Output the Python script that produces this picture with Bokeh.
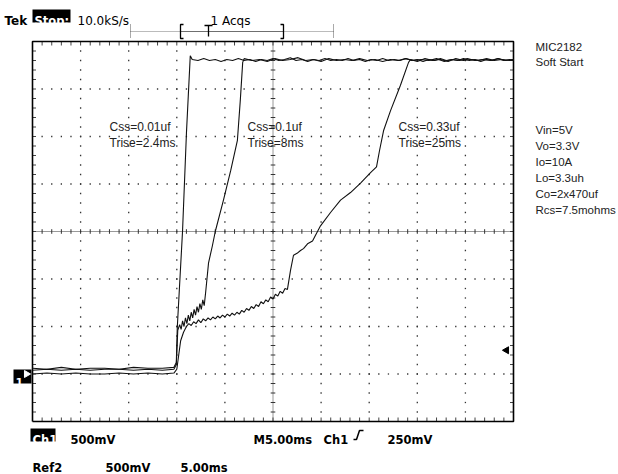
from bokeh.plotting import figure
from bokeh.models import Range1d, ColumnDataSource
from bokeh.core.properties import value
from bokeh.embed import file_html
from bokeh.resources import INLINE

# ---------------- data (time in ms, voltage in V) ----------------
T_PER_DIV = 5.0      # M5.00ms
V_PER_DIV = 0.5      # 500mV
N_HDIV = 10
N_VDIV = 8
V_BOTTOM = -0.5      # ground marker sits 1 div above the bottom edge
TRIG_LEVEL = 0.25    # 250mV

# Css = 0.01uF
t_001 = [0.0, 1.5, 3.0, 4.5, 6.0, 7.5, 9.0, 10.5, 12.0, 13.5, 14.7, 14.95, 15.05, 15.6, 16.0, 16.4,
         16.6, 17.2, 17.8, 18.4, 19.0, 19.6, 20.2, 20.8, 21.4, 22.0, 22.6, 23.2, 23.8, 24.4, 25.0,
         25.6, 26.2, 26.8, 27.4, 28.0, 28.6, 29.2, 29.8, 30.4, 31.0, 31.6, 32.2, 32.8, 33.4, 34.0,
         34.6, 35.2, 35.8, 36.4, 37.0, 37.6, 38.2, 38.8, 39.4, 40.0, 40.6, 41.2, 41.8, 42.4, 43.0,
         43.6, 44.2, 44.8, 45.4, 46.0, 46.6, 47.2, 47.8, 48.4, 49.0, 49.6, 50.0]
v_001 = [0.06, 0.05, 0.07, 0.05, 0.06, 0.06, 0.05, 0.07, 0.06, 0.06, 0.07, 0.12, 0.49, 1.51, 2.53, 3.35,
         3.31, 3.30, 3.32, 3.30, 3.31, 3.29, 3.31, 3.30, 3.32, 3.30, 3.31, 3.29, 3.31, 3.30, 3.32,
         3.30, 3.31, 3.33, 3.30, 3.31, 3.29, 3.31, 3.30, 3.32, 3.30, 3.31, 3.30, 3.32, 3.30, 3.31,
         3.29, 3.31, 3.30, 3.32, 3.30, 3.31, 3.30, 3.32, 3.30, 3.31, 3.29, 3.31, 3.30, 3.32, 3.30,
         3.31, 3.30, 3.32, 3.30, 3.31, 3.29, 3.31, 3.30, 3.32, 3.30, 3.31, 3.30]

# Css = 0.1uF
t_01 = [0.0, 1.5, 3.0, 4.5, 6.0, 7.5, 9.0, 10.5, 12.0, 13.5, 14.7, 14.95, 15.1,
        15.3, 15.45, 15.6, 15.75, 15.9, 16.05, 16.2, 16.35, 16.5, 16.65, 16.8, 16.95, 17.1, 17.25,
        17.4, 17.55, 17.7, 17.85, 18.0, 18.3, 18.7, 19.0, 19.85, 20.6, 21.3, 21.6, 21.85,
        22.0, 22.8, 23.6, 24.4, 25.2, 26.0, 26.8, 27.6, 28.4, 29.2, 30.0, 30.8, 31.6, 32.4, 33.2,
        34.0, 34.8, 35.6, 36.4, 37.2, 38.0, 38.8, 39.6, 40.4, 41.2, 42.0, 42.8, 43.6, 44.4, 45.2,
        46.0, 46.8, 47.6, 48.4, 49.2, 50.0]
v_01 = [0.04, 0.05, 0.04, 0.05, 0.04, 0.05, 0.05, 0.04, 0.05, 0.04, 0.05, 0.10, 0.46,
        0.52, 0.47, 0.56, 0.50, 0.59, 0.53, 0.62, 0.56, 0.65, 0.59, 0.68, 0.62, 0.71, 0.65,
        0.74, 0.68, 0.78, 0.72, 0.86, 1.17, 1.35, 1.50, 1.83, 2.14, 2.46, 2.88, 3.28,
        3.32, 3.30, 3.31, 3.29, 3.32, 3.30, 3.31, 3.33, 3.30, 3.31, 3.29, 3.32, 3.30, 3.31, 3.30,
        3.32, 3.30, 3.31, 3.29, 3.31, 3.30, 3.32, 3.30, 3.31, 3.30, 3.32, 3.29, 3.31, 3.30, 3.32,
        3.30, 3.31, 3.30, 3.32, 3.30, 3.31]

# Css = 0.33uF
t_033 = [0.0, 1.5, 3.0, 4.5, 6.0, 7.5, 9.0, 10.5, 12.0, 13.5, 14.7, 15.0, 15.2, 15.4, 15.7, 16.0,
         16.25, 16.5, 16.75, 17.0, 17.25, 17.5, 17.75, 18.0, 18.25, 18.5, 18.75, 19.0, 19.25, 19.5,
         19.75, 20.0, 20.25, 20.5, 20.75, 21.0, 21.25, 21.5, 21.75, 22.0, 22.25, 22.5, 22.75, 23.0,
         23.25, 23.5, 23.75, 24.0, 24.25, 24.5, 24.75, 25.0, 25.25, 25.5, 25.75, 26.0, 26.25, 26.5,
         26.82, 27.13, 27.5, 27.86, 28.17, 28.59, 29.11, 29.42, 29.94, 30.98, 32.02, 33.06, 34.10,
         35.14, 35.76, 36.07, 36.49, 37.21, 38.25, 39.09,
         39.3, 40.0, 40.8, 41.6, 42.4, 43.2, 44.0, 44.8, 45.6, 46.4, 47.2, 48.0, 48.8, 49.6, 50.0]
v_033 = [0.00, 0.01, 0.00, 0.01, 0.00, 0.00, 0.01, 0.00, 0.01, 0.00, 0.01, 0.05, 0.20, 0.35, 0.44, 0.50,
         0.53, 0.51, 0.55, 0.53, 0.57, 0.54, 0.58, 0.56, 0.59, 0.57, 0.60, 0.58, 0.61, 0.59,
         0.62, 0.60, 0.63, 0.61, 0.64, 0.62, 0.65, 0.63, 0.67, 0.65, 0.69, 0.67, 0.71, 0.69,
         0.73, 0.71, 0.76, 0.74, 0.78, 0.76, 0.81, 0.79, 0.84, 0.82, 0.87, 0.85, 0.90, 0.89,
         1.09, 1.25, 1.27, 1.30, 1.32, 1.37, 1.40, 1.46, 1.56, 1.70, 1.83, 1.91, 2.01,
         2.12, 2.18, 2.35, 2.56, 2.77, 3.04, 3.28,
         3.31, 3.29, 3.32, 3.30, 3.31, 3.29, 3.32, 3.30, 3.31, 3.30, 3.32, 3.30, 3.31, 3.30, 3.31]

trace_labels = [("Css=0.01uf", "Trise=2.4ms"), ("Css=0.1uf", "Trise=8ms"), ("Css=0.33uf", "Trise=25ms")]
side_title = ["MIC2182", "Soft Start"]
side_params = ["Vin=5V", "Vo=3.3V", "Io=10A", "Lo=3.3uh", "Co=2x470uf", "Rcs=7.5mohms"]

# ---------------- layout (page pixels) ----------------
W, H = 618, 474
PAGE = 0
GX0, GX1 = 32, 513      # graticule left/right on page
GY0, GY1 = 41, 421      # graticule top/bottom on page
T_SPAN = N_HDIV * T_PER_DIV
V_TOP = V_BOTTOM + N_VDIV * V_PER_DIV
sx = (GX1 - GX0) / T_SPAN
sy = (GY1 - GY0) / (V_TOP - V_BOTTOM)


def X(px):
    return (px - GX0) / sx


def Y(py):
    return V_TOP - (py - GY0) / sy


p = figure(width=W, height=H,
           x_range=Range1d(X(PAGE), X(PAGE + W)),
           y_range=Range1d(Y(PAGE + H), Y(PAGE)),
           output_backend="svg", toolbar_location=None,
           x_axis_location=None, y_axis_location=None,
           min_border=0, outline_line_color=None,
           background_fill_color="white", border_fill_color="white")
p.grid.visible = False

# ---------------- graticule ----------------
minor_t = [T_PER_DIV / 5 * j for j in range(1, N_HDIV * 5)]
minor_v = [V_BOTTOM + V_PER_DIV / 5 * k for k in range(1, N_VDIV * 5)]
t_center = T_SPAN / 2
v_center = V_BOTTOM + N_VDIV / 2 * V_PER_DIV
major_t = [T_PER_DIV * i for i in range(1, N_HDIV) if T_PER_DIV * i != t_center]
major_v = [V_BOTTOM + V_PER_DIV * i for i in range(1, N_VDIV) if V_BOTTOM + V_PER_DIV * i != v_center]

dx, dy = [], []
for tm in major_t:
    for vv in minor_v:
        dx.append(tm); dy.append(vv)
for vm in major_v:
    for tt in minor_t:
        dx.append(tt); dy.append(vm)
p.rect(dx, dy, width=1.3, height=1.3, width_units="screen", height_units="screen",
       fill_color="#333333", line_color=None)

# center cross lines
p.line([t_center, t_center], [V_BOTTOM, V_TOP], line_color="#333333", line_width=1, line_dash="1 1")
p.line([0, T_SPAN], [v_center, v_center], line_color="#333333", line_width=1, line_dash="1 1")
hx = 2.3 / sx
hy = 2.3 / sy
p.multi_line([[t_center - hx, t_center + hx] for _ in minor_v], [[vv, vv] for vv in minor_v],
             line_color="#333333", line_width=1)
p.multi_line([[tt, tt] for tt in minor_t], [[v_center - hy, v_center + hy] for _ in minor_t],
             line_color="#333333", line_width=1)

# border ticks
tl = 4 / sy
tlx = 3.5 / sx
bx, by = [], []
for tt in minor_t:
    bx += [[tt, tt], [tt, tt]]
    by += [[V_TOP, V_TOP - tl], [V_BOTTOM, V_BOTTOM + tl]]
for vv in minor_v:
    bx += [[0, tlx], [T_SPAN - tlx, T_SPAN]]
    by += [[vv, vv], [vv, vv]]
p.multi_line(bx, by, line_color="#444444", line_width=1)

# frame
p.line([0, T_SPAN, T_SPAN, 0, 0], [V_BOTTOM, V_BOTTOM, V_TOP, V_TOP, V_BOTTOM],
       line_color="black", line_width=1.6)

# ---------------- traces ----------------
for tt, vv in [(t_033, v_033), (t_01, v_01), (t_001, v_001)]:
    p.line(tt, vv, line_color="#111111", line_width=1.1)

# trigger level arrow and ground marker
p.scatter([X(506)], [TRIG_LEVEL], marker="triangle", angle=1.5708, size=7,
          fill_color="black", line_color="black")
p.quad(left=[X(13)], right=[X(31)], bottom=[Y(383)], top=[Y(369)], fill_color="black", line_color=None)
p.text([X(15)], [Y(381)], text=["1"], text_color="white", text_font=value("DejaVu Sans"),
       text_font_style="bold", text_font_size="11px", text_baseline="alphabetic")
p.scatter([X(26)], [0.0], marker="triangle", angle=-1.5708, size=7, fill_color="white", line_color="white")

# ---------------- texts ----------------
def add_text(items, font, size, style="normal", color="black"):
    src = ColumnDataSource(dict(x=[X(a) for _, a, _ in items], y=[Y(b) for _, _, b in items],
                                t=[s for s, _, _ in items]))
    p.text("x", "y", text="t", source=src, text_font=value(font), text_font_size=size,
           text_font_style=style, text_color=color, text_baseline="alphabetic", text_align="left")


label_x = [109, 247, 398]
inner = []
for (a, b), lx in zip(trace_labels, label_x):
    inner.append((a, lx, 126))
    inner.append((b, lx, 142))
add_text(inner, "Liberation Sans", "12px", color="#222222")

side = [(s, 535, 46 + 15 * i) for i, s in enumerate(side_title)]
side += [(s, 535, 129 + 16 * i) for i, s in enumerate(side_params)]
add_text(side, "Liberation Sans", "11.5px", color="#222222")

# status bar
p.quad(left=[X(32)], right=[X(70)], bottom=[Y(22)], top=[Y(9)], fill_color="black", line_color=None)
p.quad(left=[X(30)], right=[X(55)], bottom=[Y(441)], top=[Y(428)], fill_color="black", line_color=None)
add_text([("Tek", 4, 20)], "DejaVu Sans", "12px", style="bold")
add_text([("Stop:", 34, 20), ("Ch1", 32, 439)], "DejaVu Sans", "11.5px", style="bold", color="white")
add_text([("10.0kS/s", 77, 20), ("1 Acqs", 210, 20)], "DejaVu Sans", "12px")
add_text([("500mV", 70, 439), ("M5.00ms", 253, 439), ("Ch1", 323, 439), ("250mV", 387, 439),
          ("Ref2", 32, 467), ("500mV", 105, 467), ("5.00ms", 180, 467)],
         "DejaVu Sans", "11.5px", style="bold")

# trigger edge symbol
p.line([X(353), X(356), X(359), X(363)], [Y(439), Y(439), Y(430), Y(430)], line_color="black", line_width=1.5)

# record-length bar with trigger position
p.line([X(130), X(333)], [Y(31), Y(31)], line_color="#777777", line_width=1, line_dash="1 1")
p.line([X(180), X(283)], [Y(31), Y(31)], line_color="#222222", line_width=1, line_dash="1 1")
p.multi_line([[X(130), X(130)], [X(333), X(333)]], [[Y(24), Y(37)], [Y(24), Y(37)]],
             line_color="#555555", line_width=1, line_dash="1 1")
p.multi_line([[X(183), X(180), X(180), X(183)], [X(280), X(283), X(283), X(280)],
              [X(204), X(212)], [X(208), X(208)]],
             [[Y(24), Y(24), Y(38), Y(38)], [Y(24), Y(24), Y(38), Y(38)],
              [Y(25), Y(25)], [Y(25), Y(36)]],
             line_color="black", line_width=1.3)

open("out.html", "w").write(file_html(p, INLINE))
